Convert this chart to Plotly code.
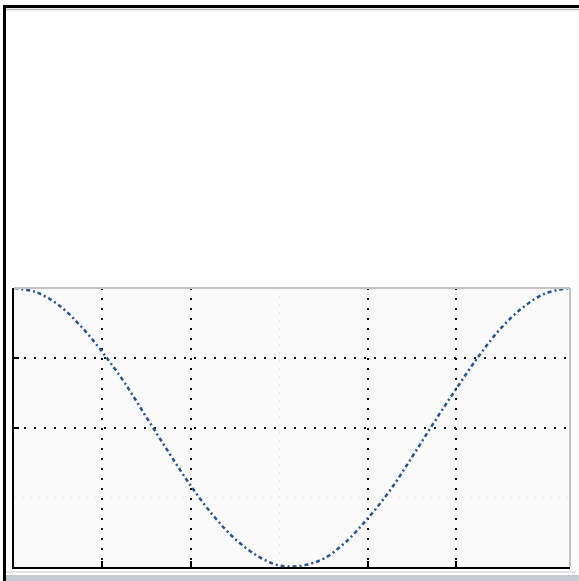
import plotly.graph_objects as go

# values
x_vals = [0, 0.25, 0.5, 0.75, 1.0, 1.25, 1.5, 1.75, 2.0, 2.25, 2.5, 2.75, 3.0,
          3.25, 3.5, 3.75, 4.0, 4.25, 4.5, 4.75, 5.0, 5.25, 5.5, 5.75, 6.0, 6.28]
y_vals = [1.0, 0.97, 0.88, 0.73, 0.54, 0.32, 0.07, -0.18, -0.42, -0.63, -0.80, -0.92, -0.99,
          -0.99, -0.94, -0.82, -0.65, -0.45, -0.21, 0.04, 0.28, 0.51, 0.71, 0.86, 0.96, 1.0]
x_grid_major = [1, 2, 4, 5]
x_grid_faint = [3]
y_grid_major = [0, 0.5]
y_grid_faint = [-0.5]

fig = go.Figure()
fig.add_trace(go.Scatter(
    x=x_vals, y=y_vals, mode="lines", line_shape="spline",
    line=dict(color="#265391", width=2.5, dash="4px,3px,2px,3px"),
    showlegend=False, hoverinfo="skip"))

W, H = 579, 581
L, R, T, B = 14, 9, 288, 14
pw, ph = W - L - R, H - T - B

def px(xp):
    return (xp - L) / pw

def py(yp):
    return (H - B - yp) / ph

shapes = [
    # window band at bottom
    dict(type="rect", xref="paper", yref="paper", x0=px(3), x1=px(579), y0=py(581), y1=py(575),
         fillcolor="#c3cad3", line=dict(width=0), layer="below"),
    dict(type="line", xref="paper", yref="paper", x0=px(6), x1=px(576), y0=py(572), y1=py(572),
         line=dict(color="#c8c8c8", width=1)),
    # outer frame top / left
    dict(type="line", xref="paper", yref="paper", x0=px(3), x1=px(579), y0=py(6.5), y1=py(6.5),
         line=dict(color="#000000", width=3)),
    dict(type="line", xref="paper", yref="paper", x0=px(4.5), x1=px(4.5), y0=py(581), y1=py(5),
         line=dict(color="#000000", width=3)),
    dict(type="line", xref="paper", yref="paper", x0=px(6), x1=px(579), y0=py(9.5), y1=py(9.5),
         line=dict(color="#b8b8b8", width=1.5)),
    # top / right axis edges (light gray)
    dict(type="line", xref="paper", yref="paper", x0=0, x1=1, y0=1, y1=1,
         line=dict(color="#c4c4c4", width=2)),
    dict(type="line", xref="paper", yref="paper", x0=1, x1=1, y0=0, y1=1,
         line=dict(color="#c4c4c4", width=2)),
]

fig.update_layout(
    width=W, height=H,
    margin=dict(l=L, r=R, t=T, b=B, pad=0),
    paper_bgcolor="#ffffff", plot_bgcolor="#fafafa",
    shapes=shapes,
    xaxis=dict(range=[0, 6.283], tickvals=x_grid_major, showticklabels=False,
               showgrid=True, gridcolor="#111111", gridwidth=2, griddash="2px,8px",
               showline=True, linecolor="#000000", linewidth=2, mirror=False,
               ticks="inside", ticklen=6, tickcolor="#000000", tickwidth=2, zeroline=False,
               minor=dict(tickvals=x_grid_faint, showgrid=True, gridcolor="#e6e6e6",
                          griddash="2px,6px", gridwidth=1, ticks="")),
    yaxis=dict(range=[-1, 1], tickvals=y_grid_major, showticklabels=False,
               showgrid=True, gridcolor="#111111", gridwidth=2, griddash="2px,8px",
               showline=True, linecolor="#000000", linewidth=2, mirror=False,
               ticks="inside", ticklen=5, tickcolor="#000000", tickwidth=2, zeroline=False,
               minor=dict(tickvals=y_grid_faint, showgrid=True, gridcolor="#e6e6e6",
                          griddash="2px,6px", gridwidth=1, ticks="")),
)

fig.write_html("out.html",
               config={"displayModeBar": False, "staticPlot": True},
               post_script="document.body.style.margin='0px';document.body.style.overflow='hidden';")
